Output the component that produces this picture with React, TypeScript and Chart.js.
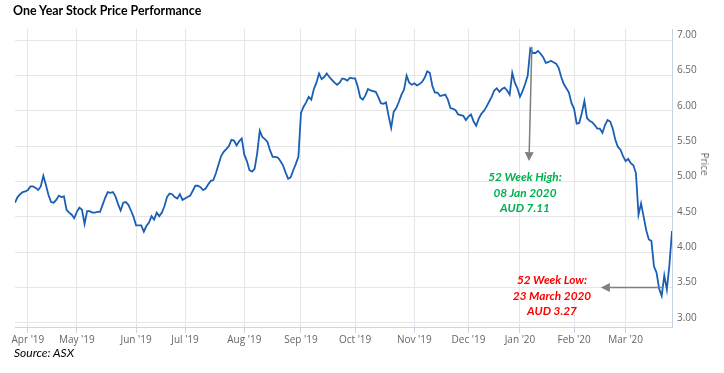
import React, { useEffect, useRef } from "react";
import { Chart, registerables } from "chart.js";

Chart.register(...registerables);

// Daily closing prices (AUD), one value per ASX trading day, 25 Mar 2019 -> 26 Mar 2020
const prices: number[] = [
  4.70, 4.78, 4.82, 4.85, 4.86, 4.88, 4.93, 4.93, 4.91, 4.88,
  4.93, 5.08, 4.95, 4.81, 4.71, 4.70, 4.74, 4.80, 4.78, 4.79,
  4.60, 4.56, 4.53, 4.48, 4.57, 4.63, 4.60, 4.40, 4.58, 4.58,
  4.56, 4.56, 4.57, 4.57, 4.67, 4.77, 4.85, 4.84, 4.85, 4.79,
  4.68, 4.59, 4.70, 4.71, 4.67, 4.59, 4.50, 4.38, 4.38, 4.38,
  4.29, 4.37, 4.42, 4.51, 4.46, 4.56, 4.51, 4.56, 4.65, 4.78,
  4.83, 4.82, 4.78, 4.76, 4.82, 4.74, 4.76, 4.78, 4.80, 4.87,
  4.94, 4.94, 4.92, 4.88, 4.90, 4.96, 5.01, 5.02, 5.12, 5.24,
  5.36, 5.42, 5.46, 5.50, 5.59, 5.58, 5.51, 5.57, 5.61, 5.38,
  5.29, 5.16, 5.14, 5.18, 5.40, 5.72, 5.63, 5.60, 5.56, 5.44,
  5.35, 5.35, 5.34, 5.29, 5.23, 5.13, 5.04, 5.06, 5.16, 5.25,
  5.35, 5.97, 6.06, 6.12, 6.20, 6.16, 6.31, 6.40, 6.53, 6.45,
  6.48, 6.53, 6.48, 6.44, 6.40, 6.37, 6.40, 6.46, 6.45, 6.43,
  6.47, 6.46, 6.46, 6.35, 6.19, 6.16, 6.22, 6.31, 6.29, 6.28,
  6.27, 6.20, 6.11, 6.10, 6.12, 5.93, 5.76, 5.99, 6.04, 6.13,
  6.23, 6.30, 6.50, 6.40, 6.37, 6.39, 6.36, 6.38, 6.41, 6.47,
  6.56, 6.54, 6.35, 6.26, 6.26, 6.21, 6.22, 6.23, 6.16, 6.04,
  6.03, 6.01, 5.95, 5.94, 5.93, 5.87, 5.92, 5.95, 5.85, 5.79,
  5.89, 5.96, 6.00, 6.06, 6.13, 6.20, 6.29, 6.32, 6.27, 6.31,
  6.33, 6.29, 6.23, 6.54, 6.40, 6.32, 6.20, 6.28, 6.38, 6.50,
  6.88, 6.82, 6.82, 6.85, 6.81, 6.76, 6.68, 6.69, 6.71, 6.69,
  6.67, 6.61, 6.48, 6.38, 6.32, 6.26, 6.11, 6.03, 5.82, 5.83,
  5.97, 6.14, 5.90, 5.86, 5.84, 5.80, 5.75, 5.75, 5.69, 5.80,
  5.87, 5.85, 5.75, 5.59, 5.49, 5.45, 5.36, 5.29, 5.32, 5.26,
  5.23, 5.12, 4.53, 4.69, 4.50, 4.31, 4.18, 4.16, 3.80, 3.71,
  3.48, 3.38, 3.67, 3.47, 3.82, 4.30,
];

// Trading-day index of the first session of each month, and its label
const monthTickIdx: number[] = [5, 24, 47, 66, 89, 111, 132, 155, 176, 196, 217, 237];
const monthLabels: string[] = [
  "Apr '19", "May '19", "Jun '19", "Jul '19", "Aug '19", "Sep '19",
  "Oct '19", "Nov '19", "Dec '19", "Jan '20", "Feb '20", "Mar '20",
];

const yTicks: number[] = [3.0, 3.5, 4.0, 4.5, 5.0, 5.5, 6.0, 6.5, 7.0];
const yMin = 2.94;
const yMax = 7.16;

// Annotation arrows (in data units)
const highArrowEndValue = 5.29;
const lowArrowValue = 3.5;
const lowArrowTipIdx = 227.4;

const tickFont = { family: "'Open Sans', 'Liberation Sans', sans-serif", size: 10 };

const arrowPlugin = {
  id: "arrows",
  afterDatasetsDraw(chart: any) {
    const { ctx, scales } = chart;
    const xs = scales.x;
    const ys = scales.y;
    const maxVal = Math.max(...prices);
    const minVal = Math.min(...prices);
    const hiIdx = prices.indexOf(maxVal);
    const loIdx = prices.indexOf(minVal);

    const drawArrow = (x1: number, y1: number, x2: number, y2: number) => {
      const ang = Math.atan2(y2 - y1, x2 - x1);
      const head = 9;
      const half = 4.5;
      const bx = x2 - head * Math.cos(ang);
      const by = y2 - head * Math.sin(ang);
      ctx.save();
      ctx.strokeStyle = "#7f7f7f";
      ctx.fillStyle = "#7f7f7f";
      ctx.lineWidth = 1.5;
      ctx.beginPath();
      ctx.moveTo(x1, y1);
      ctx.lineTo(bx, by);
      ctx.stroke();
      ctx.beginPath();
      ctx.moveTo(x2, y2);
      ctx.lineTo(bx + half * Math.sin(ang), by - half * Math.cos(ang));
      ctx.lineTo(bx - half * Math.sin(ang), by + half * Math.cos(ang));
      ctx.closePath();
      ctx.fill();
      ctx.restore();
    };

    drawArrow(
      xs.getPixelForValue(hiIdx + 0.6),
      ys.getPixelForValue(maxVal + 0.03),
      xs.getPixelForValue(hiIdx - 0.5),
      ys.getPixelForValue(highArrowEndValue)
    );
    drawArrow(
      xs.getPixelForValue(loIdx + 0.5),
      ys.getPixelForValue(lowArrowValue),
      xs.getPixelForValue(lowArrowTipIdx),
      ys.getPixelForValue(lowArrowValue)
    );
  },
};

export default function App() {
  const canvasRef = useRef<HTMLCanvasElement | null>(null);

  useEffect(() => {
    document.body.style.margin = "0";
    const canvas = canvasRef.current;
    if (!canvas) return;
    const chart = new Chart(canvas, {
      type: "line",
      data: {
        datasets: [
          {
            data: prices.map((v, i) => ({ x: i, y: v })),
            borderColor: "#1a5fb4",
            borderWidth: 1.8,
            pointRadius: 0,
            tension: 0,
            fill: false,
          },
        ],
      },
      options: {
        animation: false,
        responsive: false,
        events: [],
        layout: { padding: { left: 15, top: 29, right: 0, bottom: 0 } },
        plugins: {
          legend: { display: false },
          tooltip: { enabled: false },
          title: { display: false },
        },
        scales: {
          x: {
            type: "linear",
            min: 0,
            max: prices.length - 1,
            afterBuildTicks: (scale: any) => {
              scale.ticks = monthTickIdx.map((v) => ({ value: v }));
            },
            afterFit: (scale: any) => {
              scale.height = 46;
            },
            ticks: {
              autoSkip: false,
              maxRotation: 0,
              padding: 1,
              color: "#666666",
              font: tickFont,
              callback: (value: any) => {
                const k = monthTickIdx.indexOf(Number(value));
                return k >= 0 ? monthLabels[k] : "";
              },
            },
            grid: {
              color: "#e6e6e6",
              lineWidth: 1,
              tickColor: "#ccd6eb",
              tickLength: 6,
              drawTicks: true,
            },
            border: { display: true, color: "#ccd6eb", width: 1 },
          },
          y: {
            type: "linear",
            position: "right",
            min: yMin,
            max: yMax,
            afterBuildTicks: (scale: any) => {
              scale.ticks = yTicks.map((v) => ({ value: v }));
            },
            afterFit: (scale: any) => {
              scale.width = 52;
            },
            ticks: {
              padding: 5,
              labelOffset: -5,
              color: "#666666",
              font: tickFont,
              callback: (value: any) => Number(value).toFixed(2),
            },
            grid: { color: "#e6e6e6", lineWidth: 1, drawTicks: false },
            border: { display: true, color: "#c3d3e6", width: 1 },
          },
        },
      } as any,
      plugins: [arrowPlugin],
    });
    return () => chart.destroy();
  }, []);

  const annFont = "'Lato', 'Liberation Sans', sans-serif";

  return (
    <div
      style={{
        position: "absolute",
        left: 0,
        top: 0,
        width: 724,
        height: 373,
        background: "#ffffff",
        overflow: "hidden",
        fontFamily: annFont,
      }}
    >
      <canvas
        ref={canvasRef}
        width={724}
        height={373}
        style={{ position: "absolute", left: 0, top: 0, width: 724, height: 373 }}
      />
      <div
        style={{
          position: "absolute",
          left: 13,
          top: 3,
          fontSize: 12.4,
          lineHeight: "16px",
          fontWeight: 700,
          color: "#000000",
          whiteSpace: "nowrap",
        }}
      >
        One Year Stock Price Performance
      </div>
      <div
        style={{
          position: "absolute",
          left: 705,
          top: 164,
          transform: "translate(-50%, -50%) rotate(90deg)",
          fontFamily: "'Open Sans', 'Liberation Sans', sans-serif",
          fontSize: 10,
          lineHeight: "12px",
          color: "#666666",
          whiteSpace: "nowrap",
        }}
      >
        Price
      </div>
      <div
        style={{
          position: "absolute",
          left: 525,
          top: 169,
          transform: "translateX(-50%)",
          textAlign: "center",
          fontSize: 11.8,
          lineHeight: "15.7px",
          fontWeight: 700,
          fontStyle: "italic",
          color: "#00b050",
          whiteSpace: "nowrap",
        }}
      >
        52 Week High:
        <br />
        08 Jan 2020
        <br />
        AUD 7.11
      </div>
      <div
        style={{
          position: "absolute",
          left: 552,
          top: 272,
          transform: "translateX(-50%)",
          textAlign: "center",
          fontSize: 11.8,
          lineHeight: "15.7px",
          fontWeight: 700,
          fontStyle: "italic",
          color: "#ff0000",
          whiteSpace: "nowrap",
        }}
      >
        52 Week Low:
        <br />
        23 March 2020
        <br />
        AUD 3.27
      </div>
      <div
        style={{
          position: "absolute",
          left: 14,
          top: 345,
          fontSize: 12,
          lineHeight: "15px",
          fontStyle: "italic",
          color: "#000000",
          whiteSpace: "nowrap",
        }}
      >
        Source: ASX
      </div>
    </div>
  );
}
